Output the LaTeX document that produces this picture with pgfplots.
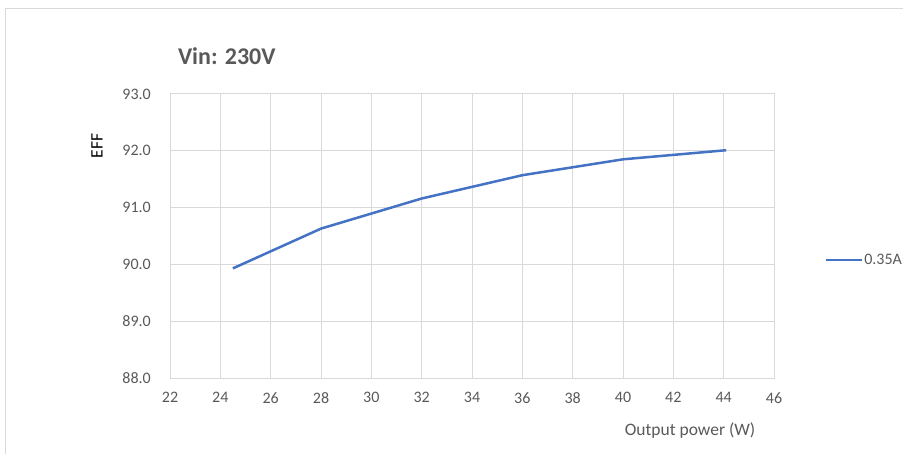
\documentclass[border=0pt]{standalone}
\usepackage{fontspec}
\setmainfont{Carlito}
\usepackage{pgfplots}
\pgfplotsset{compat=1.18}
\definecolor{gridgray}{HTML}{D9D9D9}
\definecolor{labgray}{HTML}{595959}
\definecolor{serblue}{HTML}{4472C4}
\begin{document}
\begin{tikzpicture}
\useasboundingbox (0bp,0bp) rectangle (903bp,454bp);
\draw[gridgray, line width=1bp] (5bp,0bp) -- (5bp,445bp) -- (903bp,445bp);
\begin{axis}[
  at={(170bp,76bp)}, anchor=south west,
  scale only axis, width=604bp, height=284bp,
  xmin=22, xmax=46, ymin=88, ymax=93,
  xtick={22,24,...,46}, ytick={88,89,...,93},
  grid=major, major grid style={gridgray, line width=1bp},
  axis line style={gridgray, line width=1bp},
  major tick length=0pt,
  /pgf/number format/assume math mode=true,
  yticklabel={\pgfmathprintnumber[fixed,fixed zerofill,precision=1]{\tick}},
  ticklabel style={font=\fontsize{16bp}{19bp}\selectfont, text=labgray},
  yticklabel style={inner sep=0pt, anchor=east, xshift=-19bp},
  xticklabel style={inner sep=0pt, anchor=north, yshift=-14bp},
  title={Vin: 230V},
  title style={at={(rel axis cs:0.013,1.082)}, anchor=base west, inner sep=0pt,
    font=\fontsize{24bp}{28bp}\selectfont\bfseries, text=labgray},
  xlabel={Output power (W)},
  xlabel style={at={(rel axis cs:0.861,-0.1856)}, anchor=center, inner sep=0pt,
    font=\fontsize{17.5bp}{21bp}\selectfont, text=labgray},
  ylabel={EFF},
  ylabel style={at={(rel axis cs:-0.121,0.817)}, anchor=center, inner sep=0pt,
    font=\fontsize{17.5bp}{21bp}\selectfont, text=black},
  legend style={at={(rel axis cs:1.083,0.415)}, anchor=west, draw=none, fill=none,
    inner sep=0pt, font=\fontsize{16bp}{19bp}\selectfont, text=labgray,
    nodes={inner sep=1.5bp}},
  legend image code/.code={\draw[#1] (0bp,0bp) -- (36bp,0bp);},
  clip=false,
]
\addplot[serblue, line width=2.5bp] coordinates {
  (24.5,89.93) (28,90.63) (32,91.16) (36,91.57) (40,91.85) (44.1,92.01)
};
\addlegendentry{0.35A}
\end{axis}
\end{tikzpicture}
\end{document}
